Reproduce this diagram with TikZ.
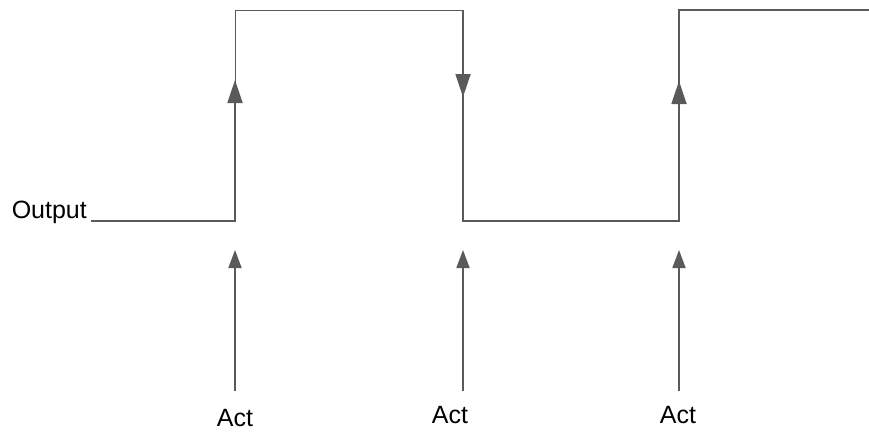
\documentclass[tikz,border=0pt]{standalone}
\usepackage{fontspec}
\setmainfont{Liberation Sans}
\usetikzlibrary{arrows.meta}
\definecolor{wavegray}{HTML}{5A5A5A}
\tikzset{
  wave/.style={draw=wavegray, line width=1.8pt},
  thinwave/.style={draw=wavegray, line width=1pt},
  edgetip/.style={draw=wavegray, line width=1.8pt, -{Triangle[width=15pt,length=23pt]}},
  actarrow/.style={draw=wavegray, line width=1.8pt, -{Triangle[width=13pt,length=18pt]}},
  lbl/.style={inner sep=0pt, font=\fontsize{25}{29}\selectfont}
}
\begin{document}
\begin{tikzpicture}[x=1pt,y=-1pt]
\useasboundingbox (0,0) rectangle (869,431);
% labels
\node[lbl, anchor=base east] (out) at (87,218) {Output};
\node[lbl, anchor=base] (act1) at (235,426) {Act};
\node[lbl, anchor=base] (act2) at (450,423) {Act};
\node[lbl, anchor=base] (act3) at (678,423) {Act};
% waveform points
\coordinate (w0) at (91,221);
\coordinate (r1b) at (235,221);
\coordinate (r1m) at (235,104);
\coordinate (r1t) at (235,10);
\coordinate (f1t) at (463,10);
\coordinate (f1b) at (463,221);
\coordinate (r2b) at (679,221);
\coordinate (r2t) at (679,10);
\coordinate (wend) at (869,10);
% waveform
\draw[wave] (w0) -- (r1b) -- (r1m);
\draw[thinwave] (r1m) -- (r1t) -- (f1t);
\draw[wave] (f1t) -- (f1b) -- (r2b) -- (r2t) -- (wend);
% edge arrowheads
\coordinate (e1a) at (235,110); \coordinate (e1b) at (235,80);
\coordinate (e2a) at (463,68);  \coordinate (e2b) at (463,97);
\coordinate (e3a) at (679,110); \coordinate (e3b) at (679,81);
\draw[edgetip] (e1a) -- (e1b);
\draw[edgetip] (e2a) -- (e2b);
\draw[edgetip] (e3a) -- (e3b);
% act arrows
\coordinate (a1s) at (235,391); \coordinate (a1e) at (235,250);
\coordinate (a2s) at (463,391); \coordinate (a2e) at (463,250);
\coordinate (a3s) at (679,391); \coordinate (a3e) at (679,250);
\draw[actarrow] (a1s) -- (a1e);
\draw[actarrow] (a2s) -- (a2e);
\draw[actarrow] (a3s) -- (a3e);
\end{tikzpicture}
\end{document}
